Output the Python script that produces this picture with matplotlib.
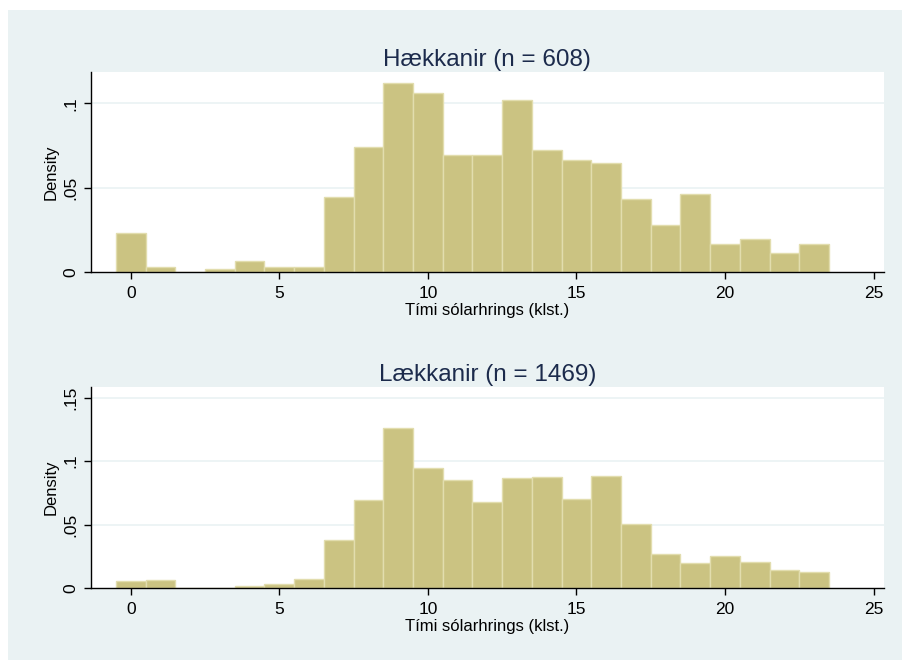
import numpy as np
import matplotlib
matplotlib.use("Agg")
import matplotlib.pyplot as plt
from matplotlib.patches import Rectangle

plt.rcParams["font.family"] = ["Liberation Sans", "DejaVu Sans"]

# bins are one hour wide, centred on 0, 1, ..., 23
hours = list(range(24))

rise_title = "Hækkanir (n = 608)"
rise_density = [0.0231, 0.0034, 0.0, 0.0018, 0.0065, 0.0034, 0.0034, 0.0448,
                0.0744, 0.1122, 0.1059, 0.0694, 0.0692, 0.1022, 0.0726, 0.0663,
                0.0645, 0.0432, 0.0282, 0.0464, 0.0166, 0.0195, 0.0116, 0.0166]

fall_title = "Lækkanir (n = 1469)"
fall_density = [0.0060, 0.0066, 0.0, 0.0, 0.0018, 0.0037, 0.0073, 0.0380,
                0.0692, 0.1264, 0.0944, 0.0852, 0.0677, 0.0865, 0.0873, 0.0705,
                0.0881, 0.0506, 0.0273, 0.0197, 0.0257, 0.0205, 0.0147, 0.0131]

x_ticks = [0, 5, 10, 15, 20, 25]
rise_yticks = [0, 0.05, 0.1]
rise_ylabels = ["0", ".05", ".1"]
fall_yticks = [0, 0.05, 0.1, 0.15]
fall_ylabels = ["0", ".05", ".1", ".15"]

xlabel = "Tími sólarhrings (klst.)"
ylabel = "Density"

BG = "#EAF2F3"
BAR = "#CBC382"
BAR_EDGE = "#E2DDAE"
TITLE_C = "#1C2B4C"

fig = plt.figure(figsize=(9.03, 6.6), dpi=100)
fig.patch.set_facecolor("white")
fig.patches.append(Rectangle((8 / 903, 0), 1, 1 - 10 / 660,
                             transform=fig.transFigure, facecolor=BG,
                             edgecolor="none", zorder=-10))


def panel(rect, density, title, yticks, ylabels, ytop):
    ax = fig.add_axes(rect)
    ax.set_facecolor("white")
    ax.bar(hours, density, width=1.0, color=BAR, edgecolor=BAR_EDGE,
           linewidth=1.0, zorder=2)
    ax.set_xlim(-1.35, 25.35)
    ax.set_ylim(0, ytop)
    ax.set_xticks(x_ticks)
    ax.set_yticks(yticks)
    ax.set_yticklabels(ylabels, rotation=90, va="center")
    for t in yticks[1:]:
        ax.axhline(t, color=BG, lw=1.2, zorder=1)
    for sp in ["top", "right"]:
        ax.spines[sp].set_visible(False)
    for sp in ["left", "bottom"]:
        ax.spines[sp].set_linewidth(1.0)
    ax.tick_params(direction="out", length=5, width=1.0, labelsize=12.5,
                   colors="black")
    ax.tick_params(axis="y", pad=4)
    ax.tick_params(axis="x", pad=5)
    ax.set_xlabel(xlabel, fontsize=12, labelpad=1)
    ax.set_ylabel(ylabel, fontsize=12, labelpad=3)
    ax.set_title(title, fontsize=17.5, color=TITLE_C, pad=4)
    return ax


panel([0.1004, 0.5874, 0.8785, 0.3035], rise_density, rise_title,
      rise_yticks, rise_ylabels, 0.1185)
panel([0.1004, 0.1086, 0.8785, 0.3055], fall_density, fall_title,
      fall_yticks, fall_ylabels, 0.1585)

fig.savefig("out.png", dpi=100, facecolor=fig.get_facecolor())
